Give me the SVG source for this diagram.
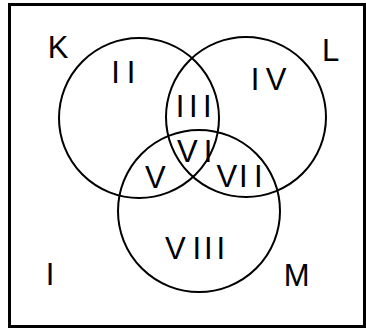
<svg xmlns="http://www.w3.org/2000/svg" width="366" height="329" viewBox="0 0 366 329">
  <style>
    .frame { fill: #ffffff; stroke: #000000; stroke-width: 3; }
    .set { fill: none; stroke: #000000; stroke-width: 2; }
    .lbl { font-family: "Liberation Sans", Arial, sans-serif; font-size: 31px; fill: #000000; }
  </style>
  <rect class="frame" x="9.5" y="4.5" width="355" height="322"/>
  <g id="K">
    <circle class="set" cx="139" cy="118" r="80"/>
    <text class="lbl" x="47.7" y="58">K</text>
  </g>
  <g id="L">
    <circle class="set" cx="246" cy="117" r="80"/>
    <text class="lbl" x="322" y="61">L</text>
  </g>
  <g id="M">
    <circle class="set" cx="199" cy="211" r="81"/>
    <text class="lbl" x="283.7" y="286">M</text>
  </g>
  <g id="regions">
    <text id="r1" class="lbl" x="45.7" y="285">I</text>
    <text id="r2" class="lbl" x="111.2 126.7" y="83">II</text>
    <text id="r3" class="lbl" x="175.7 189 203" y="117">III</text>
    <text id="r4" class="lbl" x="250.7 265.8" y="90">IV</text>
    <text id="r5" class="lbl" x="145" y="188">V</text>
    <text id="r6" class="lbl" x="177 203.7" y="162">VI</text>
    <text id="r7" class="lbl" x="216.5 239 254" y="187">VII</text>
    <text id="r8" class="lbl" x="165 192.4 204 216.4" y="259">VIII</text>
  </g>
</svg>
